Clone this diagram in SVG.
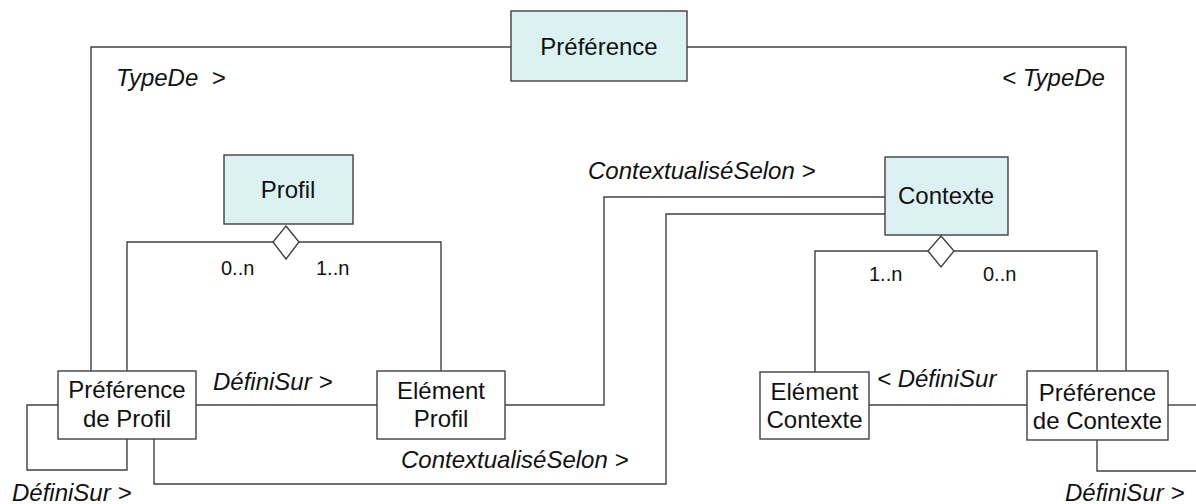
<svg xmlns="http://www.w3.org/2000/svg" width="1196" height="504" viewBox="0 0 1196 504">
<style>
.box{stroke:#404040;stroke-width:1.4}
.cls{fill:#dcf2f2}
.plain{fill:#ffffff}
.t{font-family:"Liberation Sans",Arial,sans-serif;font-size:24px;fill:#111}
.c{text-anchor:middle}
.i{font-style:italic}
.m{font-family:"Liberation Sans",Arial,sans-serif;font-size:20px;fill:#111}
.ln{fill:none;stroke:#404040;stroke-width:1.4}
.dia{fill:#ffffff;stroke:#404040;stroke-width:1.4}
</style>
<rect width="1196" height="504" fill="#ffffff"/>
<g id="connectors">
  <path class="ln" d="M91,371 V47 H511"/>
  <path class="ln" d="M687,47 H1126 V371"/>
  <path class="ln" d="M127,371 V242 H441 V371"/>
  <path class="ln" d="M815,372 V251 H1097 V371"/>
  <path class="ln" d="M196,405 H377"/>
  <path class="ln" d="M58,405 H27 V470 H127 V439"/>
  <path class="ln" d="M505,405 H604 V197 H885"/>
  <path class="ln" d="M154,439 V484 H666 V214 H885"/>
  <path class="ln" d="M869,405 H1027"/>
  <path class="ln" d="M1168,405 H1196"/>
  <path class="ln" d="M1097,440 V471 H1196"/>
  <polygon class="dia" points="286,226 299,242 286,259 273,242"/>
  <polygon class="dia" points="941,236 954,251 941,267 928,251"/>
  <text class="t i" x="116" y="86" xml:space="preserve">TypeDe  &gt;</text>
  <text class="t i" x="1002" y="86">&lt; TypeDe</text>
  <text class="t i" x="588" y="179">ContextualiséSelon &gt;</text>
  <text class="t i" x="401" y="468">ContextualiséSelon &gt;</text>
  <text class="t i" x="213" y="390">DéfiniSur &gt;</text>
  <text class="t i" x="12" y="501">DéfiniSur &gt;</text>
  <text class="t i" x="877" y="387">&lt; DéfiniSur</text>
  <text class="t i" x="1065" y="501">DéfiniSur &gt;</text>
  <text class="m" x="221" y="275">0..n</text>
  <text class="m" x="316" y="275">1..n</text>
  <text class="m" x="869" y="281">1..n</text>
  <text class="m" x="983" y="281">0..n</text>
</g>
<g id="preference">
  <rect class="box cls" x="511" y="11" width="176" height="70"/>
  <text class="t c" x="599" y="54.5">Préférence</text>
</g>
<g id="profil">
  <rect class="box cls" x="224" y="155" width="129" height="69"/>
  <text class="t c" x="288" y="198">Profil</text>
</g>
<g id="contexte">
  <rect class="box cls" x="885" y="157" width="123" height="78"/>
  <text class="t c" x="946" y="203.5">Contexte</text>
</g>
<g id="preference-de-profil">
  <rect class="box plain" x="58" y="371" width="138" height="68"/>
  <text class="t c" x="127" y="398">Préférence</text>
  <text class="t c" x="127" y="427">de Profil</text>
</g>
<g id="element-profil">
  <rect class="box plain" x="377" y="371" width="128" height="68"/>
  <text class="t c" x="441" y="399">Elément</text>
  <text class="t c" x="441" y="427">Profil</text>
</g>
<g id="element-contexte">
  <rect class="box plain" x="760" y="372" width="109" height="67"/>
  <text class="t c" x="814.5" y="400">Elément</text>
  <text class="t c" x="814.5" y="428">Contexte</text>
</g>
<g id="preference-de-contexte">
  <rect class="box plain" x="1027" y="371" width="141" height="69"/>
  <text class="t c" x="1097.5" y="400.5">Préférence</text>
  <text class="t c" x="1097.5" y="429">de Contexte</text>
</g>
</svg>
